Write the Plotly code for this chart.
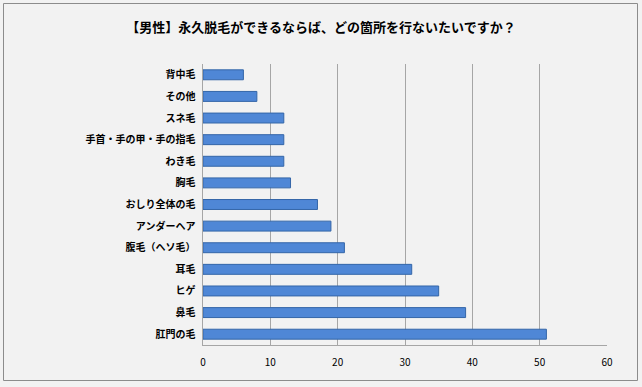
import plotly.graph_objects as go

categories = ["背中毛", "その他", "スネ毛", "手首・手の甲・手の指毛", "わき毛", "胸毛",
              "おしり全体の毛", "アンダーヘア", "腹毛（ヘソ毛）", "耳毛", "ヒゲ", "鼻毛", "肛門の毛"]
values = [6, 8, 12, 12, 12, 13, 17, 19, 21, 31, 35, 39, 51]
x_ticks = [0, 10, 20, 30, 40, 50, 60]
title = "【男性】永久脱毛ができるならば、どの箇所を行ないたいですか？"

W, H = 642, 387
ml, mr, mt, mb = 203, 35, 64, 42
pw, ph = W - ml - mr, H - mt - mb

def px_x(x):
    return (x - ml) / pw

def px_y(y):
    return (H - mb - y) / ph

fig = go.Figure(go.Bar(
    x=values, y=categories, orientation="h",
    marker=dict(color="#4f87d6", line=dict(color="#3466a8", width=1)),
    width=0.46,
))

fig.update_layout(
    width=W, height=H,
    margin=dict(l=ml, r=mr, t=mt, b=mb, autoexpand=False),
    paper_bgcolor="#f2f2f2", plot_bgcolor="#f2f2f2",
    font=dict(family="Noto Sans CJK JP", color="black"),
    title=dict(text="<b>" + title + "</b>", x=0.5, xref="container", xanchor="center",
               y=1 - 27 / H, yref="container", yanchor="middle",
               font=dict(size=13, color="black")),
    showlegend=False,
    xaxis=dict(range=[0, 60], tickvals=x_ticks, showgrid=True, gridcolor="#a6a6a6",
               gridwidth=1, zeroline=False, showline=True, linecolor="#a6a6a6",
               tickfont=dict(size=10, family="Noto Sans CJK JP"), ticks="", ticklen=0,
               ticklabelstandoff=8, automargin=False),
    yaxis=dict(autorange="reversed", showgrid=False, showline=True, linecolor="#a6a6a6",
               ticks="", tickfont=dict(size=10, family="Noto Sans CJK JP", weight="bold"),
               ticksuffix="  ", automargin=False),
    shapes=[dict(type="rect", xref="paper", yref="paper",
                 x0=px_x(3.5), x1=px_x(637.5), y0=px_y(380.5), y1=px_y(3.5),
                 line=dict(color="#8c8c8c", width=1), fillcolor="rgba(0,0,0,0)", layer="above")],
)

fig.write_html("out.html", config={"displayModeBar": False},
               post_script="document.body.style.margin='0';document.body.style.padding='0';")
